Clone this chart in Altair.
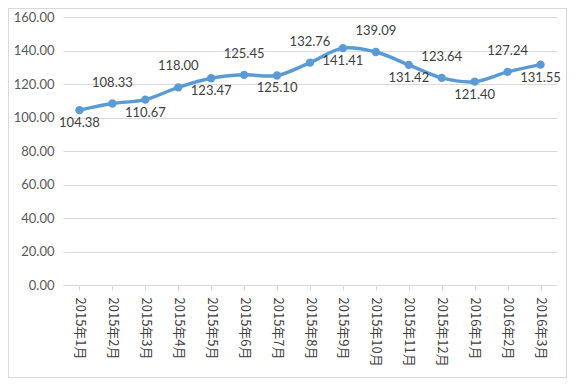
import altair as alt
import pandas as pd

months = ["2015年1月", "2015年2月", "2015年3月", "2015年4月", "2015年5月", "2015年6月",
          "2015年7月", "2015年8月", "2015年9月", "2015年10月", "2015年11月", "2015年12月",
          "2016年1月", "2016年2月", "2016年3月"]
values = [104.38, 108.33, 110.67, 118.00, 123.47, 125.45, 125.10, 132.76, 141.41,
          139.09, 131.42, 123.64, 121.40, 127.24, 131.55]

df = pd.DataFrame({"month": months, "value": values})
df["pos"] = ["below" if i % 2 == 0 else "above" for i in range(len(df))]

W, H = 494, 268
PL, PT, PR, PB = 55, 9, 10, 93

x = alt.X("month:N", sort=months, title=None,
          scale=alt.Scale(paddingInner=0, paddingOuter=0),
          axis=alt.Axis(labelAngle=90, labelAlign="left", labelBaseline="middle",
                        labelFont="Noto Sans CJK SC", labelFontSize=13, labelColor="#404040",
                        labelPadding=7, domainColor="#d9d9d9", tickColor="#d9d9d9",
                        tickSize=5, bandPosition=0, grid=False))
y = alt.Y("value:Q", title=None,
          scale=alt.Scale(domain=[0, 160], nice=False),
          axis=alt.Axis(values=[0, 20, 40, 60, 80, 100, 120, 140, 160], format=".2f",
                        labelFont="Lato", labelFontSize=13, labelColor="#595959",
                        labelPadding=9, ticks=False, domain=False,
                        gridColor="#d9d9d9", gridWidth=1))

base = alt.Chart(df)

frame = alt.Chart(df).mark_rect(fill="white", fillOpacity=0, stroke="#d9d9d9", strokeWidth=1).encode(
    x=alt.value(-PL + 0.5), x2=alt.value(W + PR - 0.5),
    y=alt.value(-PT + 0.5), y2=alt.value(H + PB - 0.5))

line = base.mark_line(color="#5B9BD5", strokeWidth=3.5, interpolate="catmull-rom").encode(x=x, y=y)
pts = base.mark_circle(color="#5B9BD5", size=70, opacity=1).encode(x=x, y=y)

lab_above = base.transform_filter(alt.datum.pos == "above").mark_text(
    dy=-21, font="Lato", fontSize=13, color="#404040").encode(
    x=x, y=y, text=alt.Text("value:Q", format=".2f"))
lab_below = base.transform_filter(alt.datum.pos == "below").mark_text(
    dy=13, font="Lato", fontSize=13, color="#404040").encode(
    x=x, y=y, text=alt.Text("value:Q", format=".2f"))

chart = alt.layer(frame, line, pts, lab_above, lab_below).properties(
    width=W, height=H,
    autosize=alt.AutoSizeParams(type="none"),
    padding={"left": PL, "top": PT, "right": PR, "bottom": PB},
).configure_view(stroke=None)

chart.save("out.html", embed_options={"renderer": "svg", "actions": False})
